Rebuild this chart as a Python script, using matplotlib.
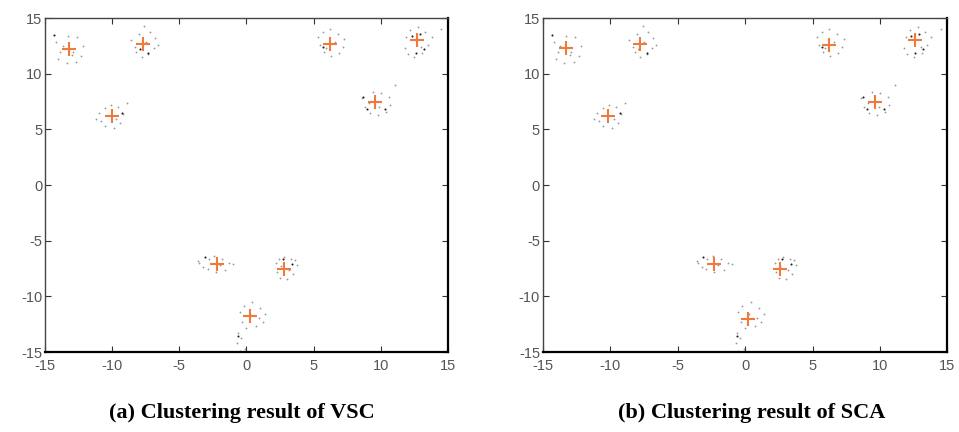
import matplotlib.pyplot as plt

plt.rcParams['axes.unicode_minus'] = False
plt.rcParams['font.family'] = ['Liberation Sans', 'DejaVu Sans']

# sample points (same data set in both panels)
light_x = [-14.2, -13.9, -14.0, -13.4, -12.7, -12.3, -12.2, -12.6, -13.3, -13.7, -12.9, -13.0,
           -8.6, -8.3, -8.0, -7.6, -7.2, -6.8, -6.9, -7.3, -7.8, -8.2, -7.5, -6.6,
           -11.0, -10.8, -10.5, -9.9, -9.4, -9.2, -9.6, -10.1, -8.9, -10.5, -9.7, -11.2,
           5.3, 5.5, 5.8, 6.3, 6.9, 7.2, 7.3, 6.8, 6.2, 5.7, 6.6, 5.9,
           11.8, 12.0, 12.5, 13.1, 13.5, 13.8, 13.3, 12.8, 12.2, 11.9, 14.5, 13.0,
           8.6, 8.8, 9.2, 9.8, 10.4, 10.7, 10.6, 10.0, 9.4, 11.1, 9.9, 9.1,
           -3.5, -3.2, -2.8, -2.4, -1.8, -1.3, -1.0, -1.6, -2.3, -2.9, -2.0, -3.6,
           2.2, 2.3, 2.5, 3.0, 3.5, 3.8, 3.3, 2.8, 2.4, 3.6, 2.6, 3.2,
           -0.5, -0.3, 0.0, 0.7, 1.2, 1.4, 1.0, 0.4, -0.2, 0.9, -0.6, -0.4, -0.7, -0.1, -0.5, 0.3]
light_y = [12.9, 12.0, 11.3, 11.0, 11.1, 11.6, 12.5, 13.3, 13.4, 12.5, 12.0, 11.7,
           13.0, 12.4, 13.6, 14.3, 13.8, 13.2, 12.3, 11.8, 11.5, 12.0, 12.9, 12.6,
           6.5, 5.8, 5.3, 5.1, 5.6, 6.4, 7.0, 7.2, 7.4, 6.9, 5.9, 5.9,
           13.3, 12.6, 12.0, 11.6, 11.9, 12.4, 13.1, 13.6, 14.0, 13.8, 12.9, 12.3,
           12.3, 11.8, 11.5, 11.9, 12.6, 13.3, 13.8, 14.2, 13.9, 13.3, 14.0, 12.4,
           7.8, 7.0, 6.5, 6.3, 6.6, 7.2, 7.9, 8.3, 8.4, 9.0, 7.0, 7.4,
           -7.0, -7.4, -6.6, -6.4, -6.6, -7.0, -7.1, -7.6, -7.8, -7.5, -7.2, -6.8,
           -7.0, -7.8, -8.3, -8.4, -8.0, -7.2, -6.6, -6.5, -6.6, -6.7, -7.3, -7.6,
           -11.4, -12.3, -12.8, -12.7, -12.3, -11.6, -11.0, -10.5, -10.9, -11.9, -13.3, -13.7, -14.2, -14.7, -14.9, -11.6]

dark_x = [-14.3, -7.3, -7.9, -9.3, 5.7, 12.3, 13.2, 12.6, 12.9, 8.7, 9.0, 10.3, -3.1, 3.4, 2.7, -0.6]
dark_y = [13.5, 11.9, 12.2, 6.5, 12.4, 13.4, 12.2, 11.9, 13.6, 7.9, 6.8, 6.8, -6.5, -7.1, -6.6, -13.6]

# cluster centres found by each method
vsc_cx = [-13.2, -7.7, -10.0, 6.2, 12.7, 9.6, -2.2, 2.8, 0.3]
vsc_cy = [12.2, 12.7, 6.2, 12.7, 13.0, 7.5, -7.1, -7.5, -11.8]
sca_cx = [-13.3, -7.8, -10.2, 6.2, 12.6, 9.6, -2.3, 2.6, 0.2]
sca_cy = [12.3, 12.7, 6.2, 12.6, 13.0, 7.5, -7.1, -7.5, -12.0]

captions = ['(a) Clustering result of VSC', '(b) Clustering result of SCA']
ticks = [-15, -10, -5, 0, 5, 10, 15]

fig = plt.figure(figsize=(9.59, 4.32), dpi=100)
ax_a = fig.add_axes([0.047, 0.185, 0.420, 0.773])
ax_b = fig.add_axes([0.566, 0.185, 0.422, 0.773])

for ax, cx, cy in [(ax_a, vsc_cx, vsc_cy), (ax_b, sca_cx, sca_cy)]:
    ax.scatter(light_x, light_y, s=7, color='#9a9a9a', marker='.', linewidths=0)
    ax.scatter(dark_x, dark_y, s=9, color='#222222', marker='.', linewidths=0)
    ax.scatter(cx, cy, s=90, color='#f07a3a', marker='+', linewidths=1.5)
    ax.set_xlim(-15, 15)
    ax.set_ylim(-15, 15)
    ax.set_xticks(ticks)
    ax.set_yticks(ticks)
    ax.tick_params(direction='in', length=4, width=0.8, top=True, right=True,
                   labelsize=10.5, labelcolor='#555555', color='#333333')
    ax.tick_params(axis='x', pad=5)
    ax.tick_params(axis='y', pad=2)
    for side in ['bottom', 'right']:
        ax.spines[side].set_linewidth(1.6)
    for side in ['top', 'left']:
        ax.spines[side].set_linewidth(1.0)
        ax.spines[side].set_color('#444444')

fig.text(0.252, 0.044, captions[0], ha='center', va='center', fontsize=16,
         fontweight='bold', family='Liberation Serif')
fig.text(0.784, 0.044, captions[1], ha='center', va='center', fontsize=16,
         fontweight='bold', family='Liberation Serif')

fig.savefig('out.png', dpi=100)
